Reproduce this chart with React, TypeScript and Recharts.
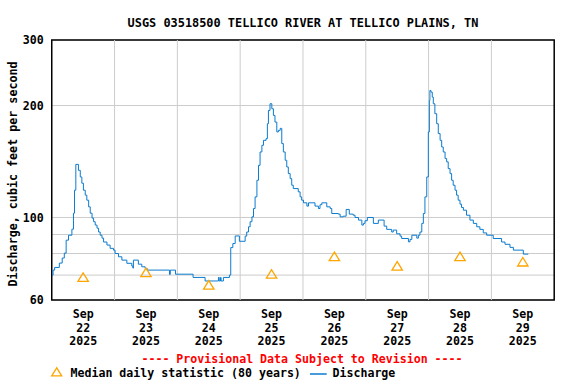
import React from 'react';
import {
  ComposedChart,
  Line,
  Scatter,
  XAxis,
  YAxis,
  CartesianGrid,
  ReferenceLine,
  ReferenceArea,
} from 'recharts';

const FONT = '"DejaVu Sans Mono", "Liberation Mono", monospace';

const titleText = 'USGS 03518500 TELLICO RIVER AT TELLICO PLAINS, TN';
const yAxisTitle = 'Discharge, cubic feet per second';
const provisionalText = '---- Provisional Data Subject to Revision ----';
const medianLegend = 'Median daily statistic (80 years)';
const flowLegend = 'Discharge';

const monthLabel = 'Sep';
const yearLabel = '2025';
const dayLabels = ['22', '23', '24', '25', '26', '27', '28', '29'];
const labelHours = [12, 36, 60, 84, 108, 132, 156, 180];
const dayBoundaryHours = [24, 48, 72, 96, 120, 144, 168];
const yTicks = [60, 70, 80, 90, 100, 200, 300];
const yLabelled = [60, 100, 200, 300];

// hours since Sep 22 00:00
const flowHours = [
  0, 0.5, 1.1, 2.9, 4.0, 4.8, 5.5, 6.4, 7.7, 8.3, 8.7, 9.2, 10.2, 10.9, 11.5, 12.1, 12.8, 13.4,
  14.1, 14.7, 15.4, 16.0, 16.6, 17.3, 17.9, 18.5, 19.2, 19.8, 21.1, 22.3, 23.6, 24.2, 25.5, 26.8,
  28.7, 30.6, 31.0, 31.2, 33.1, 34.4, 35.7, 36.5, 45.0, 45.3, 47.3, 54.0, 58.6, 63.7, 64.0, 64.5,
  64.7, 65.6, 67.9, 68.4, 69.2, 70.1, 71.7, 73.9, 74.5, 75.2, 75.8, 76.5, 77.1, 77.7, 78.4, 79.0,
  79.6, 80.3, 80.9, 81.9, 82.4, 82.8, 83.4, 84.1, 84.7, 85.3, 86.0, 86.6, 87.3, 87.9, 88.5, 89.2,
  89.8, 90.4, 91.1, 91.7, 92.3, 94.2, 94.9, 95.5, 96.2, 97.5, 98.1, 100.6, 101.9, 102.5, 103.2,
  105.1, 106.4, 107.0, 109.5, 110.2, 111.4, 112.5, 113.7, 115.2, 115.9, 117.2, 118.5, 119.1,
  119.7, 120.6, 122.9, 124.8, 127.0, 128.0, 129.9, 130.5, 131.8, 133.1, 133.7, 136.3, 136.9,
  137.6, 139.5, 140.1, 140.7, 141.4, 142.0, 142.6, 143.3, 143.9, 144.3, 144.5, 144.9, 145.4,
  145.8, 146.4, 147.1, 147.7, 148.4, 149.0, 149.6, 150.3, 150.9, 151.5, 152.2, 152.8, 153.4,
  154.1, 154.7, 155.3, 156.0, 156.6, 157.3, 158.5, 159.8, 161.1, 162.4, 163.6, 164.9, 166.2,
  168.7, 171.9, 173.2, 175.1, 176.4, 180.2, 182.1,
];

const flowValues = [
  70.0, 72.2, 73.4, 75.4, 77.8, 80.2, 86.9, 89.6, 93.0, 102.7, 118.4, 138.9, 133.9, 128.5, 123.6,
  118.4, 114.8, 111.3, 106.8, 102.7, 99.6, 97.4, 95.4, 93.6, 91.4, 89.6, 88.0, 85.9, 84.3, 82.6,
  81.7, 80.0, 78.4, 76.8, 75.3, 74.0, 73.1, 76.8, 74.9, 73.7, 72.9, 72.2, 70.3, 72.2, 70.4, 69.0,
  67.5, 69.0, 67.5, 69.0, 67.5, 69.0, 70.0, 83.0, 85.1, 89.2, 86.3, 89.1, 91.4, 94.4, 97.4,
  100.4, 105.7, 113.6, 125.9, 138.1, 150.0, 156.3, 161.2, 162.9, 178.7, 194.0, 202.2, 196.0,
  188.1, 180.5, 169.8, 171.5, 173.6, 158.0, 150.0, 142.5, 136.7, 131.2, 127.2, 122.1, 119.6,
  117.2, 113.6, 111.3, 109.5, 107.3, 109.5, 107.3, 105.7, 108.2, 109.5, 106.8, 105.7, 102.5,
  102.1, 100.4, 100.8, 105.1, 102.1, 101.4, 100.0, 98.4, 95.4, 96.4, 98.0, 100.0, 96.4, 98.4,
  94.8, 92.9, 91.4, 92.5, 90.4, 89.1, 87.8, 86.0, 87.3, 89.6, 88.0, 89.6, 91.4, 96.4, 102.5,
  113.6, 128.5, 169.8, 206.4, 219.5, 217.3, 210.7, 202.2, 190.1, 178.7, 168.1, 161.2, 154.7,
  150.0, 144.0, 141.1, 135.3, 131.2, 125.9, 122.1, 118.4, 114.8, 111.3, 108.6, 106.4, 104.6,
  101.4, 98.4, 96.4, 94.4, 92.9, 90.9, 89.6, 87.8, 85.9, 84.7, 83.1, 81.7, 79.7, 79.7,
];

const medianHours = [12, 36, 60, 84, 108, 132, 156, 180];
const medianValues = [69.0, 71.1, 65.8, 70.4, 78.5, 74.0, 78.5, 75.9];

const flowData = flowHours.map((h, i) => ({ h, q: flowValues[i] }));
const medianData = medianHours.map((h, i) => ({ h, m: medianValues[i] }));

const BLUE = '#0b7bcf';
const ORANGE = '#ffa500';
const GRID = '#cccccc';
const FS = 11.6;

const Triangle = (props: any) => {
  const { cx, cy } = props;
  if (cx == null || cy == null) return null;
  return (
    <polygon
      points={`${cx},${cy - 4.5} ${cx - 5.2},${cy + 4} ${cx + 5.2},${cy + 4}`}
      fill="none"
      stroke={ORANGE}
      strokeWidth={1.3}
    />
  );
};

const XTick = (props: any) => {
  const { x, payload } = props;
  const idx = labelHours.indexOf(payload.value);
  if (idx < 0) return null;
  const base = 300;
  return (
    <text
      x={x}
      y={base}
      textAnchor="middle"
      fontFamily={FONT}
      fontWeight="bold"
      fontSize={FS}
      fill="#000"
    >
      <tspan x={x} y={base + 18}>{monthLabel}</tspan>
      <tspan x={x} y={base + 31.5}>{dayLabels[idx]}</tspan>
      <tspan x={x} y={base + 44.5}>{yearLabel}</tspan>
    </text>
  );
};

const YTick = (props: any) => {
  const { x, y, payload } = props;
  if (!yLabelled.includes(payload.value)) return null;
  return (
    <text
      x={x}
      y={y}
      dy="0.36em"
      textAnchor="end"
      fontFamily={FONT}
      fontWeight="bold"
      fontSize={FS}
      fill="#000"
    >
      {String(payload.value)}
    </text>
  );
};

export default function App() {
  return (
    <div style={{ position: 'absolute', left: 0, top: 0, width: 576, height: 384, background: '#fff' }}>
      <ComposedChart
        width={576}
        height={384}
        margin={{ top: 40, right: 21.8, bottom: 54, left: 0.75 }}
        style={{ position: 'absolute', left: 0, top: 0 }}
      >
        <CartesianGrid vertical={false} stroke={GRID} strokeWidth={1} />
        <XAxis
          dataKey="h"
          type="number"
          domain={[0, 192]}
          ticks={labelHours}
          interval={0}
          height={30}
          axisLine={false}
          tickLine={false}
          tick={<XTick />}
          allowDataOverflow
        />
        <YAxis
          type="number"
          scale="log"
          domain={[60, 300]}
          ticks={yTicks}
          interval={0}
          width={51}
          axisLine={false}
          tickLine={false}
          tick={<YTick />}
          allowDataOverflow
        />
        {dayBoundaryHours.map((h) => (
          <ReferenceLine key={h} x={h} stroke={GRID} strokeWidth={1} />
        ))}
        <Line
          data={flowData}
          dataKey="q"
          type="stepAfter"
          stroke={BLUE}
          strokeWidth={1}
          dot={false}
          activeDot={false}
          isAnimationActive={false}
        />
        <Scatter
          data={medianData}
          dataKey="m"
          shape={<Triangle />}
          isAnimationActive={false}
        />
        <ReferenceArea
          x1={0}
          x2={192}
          y1={60}
          y2={300}
          fill="none"
          fillOpacity={0}
          stroke="#000"
          strokeWidth={1.5}
          ifOverflow="visible"
        />
      </ComposedChart>
      <svg
        width={576}
        height={384}
        style={{ position: 'absolute', left: 0, top: 0, pointerEvents: 'none' }}
      >
        <text x={303} y={26.5} textAnchor="middle" fontFamily={FONT} fontWeight="bold" fontSize={11.9} fill="#000">
          {titleText}
        </text>
        <text
          transform="translate(16.5,174) rotate(-90)"
          textAnchor="middle"
          fontFamily={FONT}
          fontWeight="bold"
          fontSize={11.7}
          fill="#000"
        >
          {yAxisTitle}
        </text>
        <text x={302} y={363} textAnchor="middle" fontFamily={FONT} fontWeight="bold" fontSize={FS} fill="#ff0000">
          {provisionalText}
        </text>
        <polygon points="56.7,367.8 51.7,375.8 61.7,375.8" fill="none" stroke={ORANGE} strokeWidth={1.3} />
        <text x={70.5} y={377} fontFamily={FONT} fontWeight="bold" fontSize={FS} fill="#000">
          {medianLegend}
        </text>
        <line x1={310} y1={374} x2={326.7} y2={374} stroke={BLUE} strokeWidth={1.5} />
        <text x={332.5} y={377} fontFamily={FONT} fontWeight="bold" fontSize={FS} fill="#000">
          {flowLegend}
        </text>
      </svg>
    </div>
  );
}
